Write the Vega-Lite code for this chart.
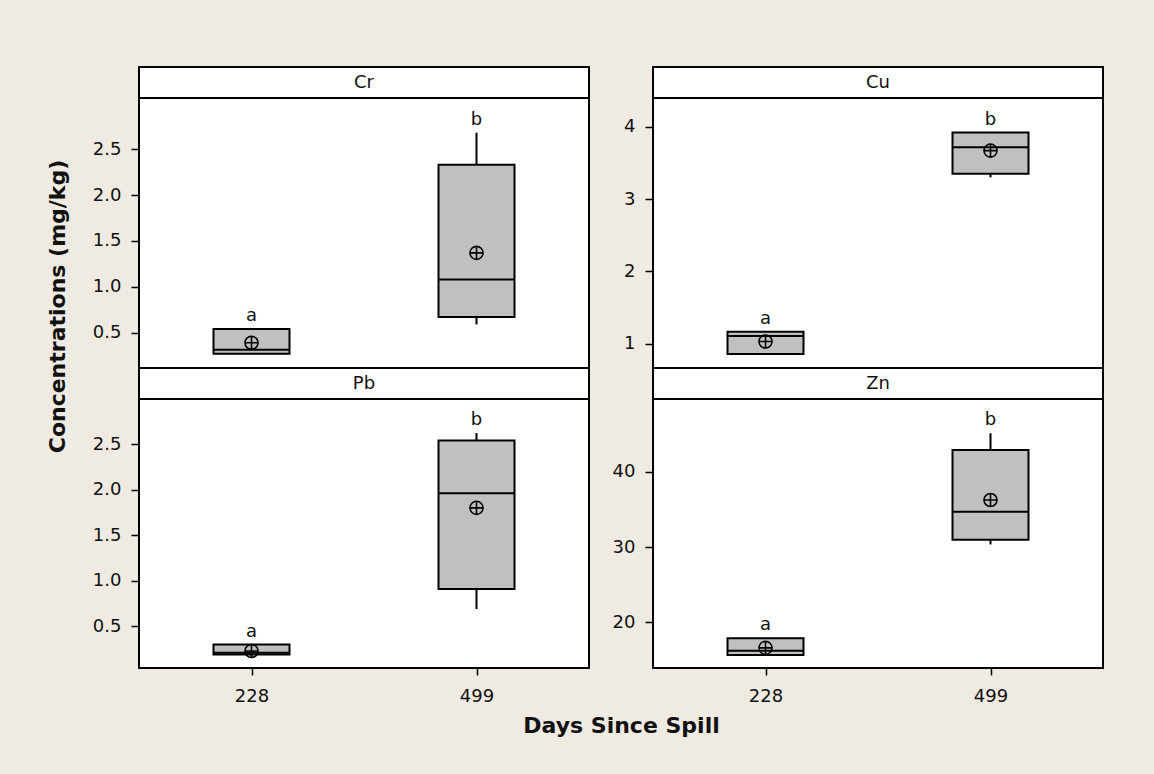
{
  "$schema": "https://vega.github.io/schema/vega-lite/v6.json",
  "background": "#EFEBE2",
  "padding": {"left": 45, "top": 66, "right": 50, "bottom": 37},
  "datasets": {
    "boxes": [
      {"element": "Cr", "day": 228, "lo": 0.27, "q1": 0.27, "median": 0.315, "q3": 0.54, "hi": 0.54, "mean": 0.39, "letter": "a"},
      {"element": "Cr", "day": 499, "lo": 0.59, "q1": 0.67, "median": 1.08, "q3": 2.33, "hi": 2.68, "mean": 1.37, "letter": "b"},
      {"element": "Cu", "day": 228, "lo": 0.857, "q1": 0.857, "median": 1.106, "q3": 1.166, "hi": 1.166, "mean": 1.03, "letter": "a"},
      {"element": "Cu", "day": 499, "lo": 3.3, "q1": 3.35, "median": 3.715, "q3": 3.92, "hi": 3.92, "mean": 3.67, "letter": "b"},
      {"element": "Pb", "day": 228, "lo": 0.17, "q1": 0.19, "median": 0.21, "q3": 0.3, "hi": 0.3, "mean": 0.23, "letter": "a"},
      {"element": "Pb", "day": 499, "lo": 0.69, "q1": 0.91, "median": 1.96, "q3": 2.54, "hi": 2.62, "mean": 1.8, "letter": "b"},
      {"element": "Zn", "day": 228, "lo": 15.65, "q1": 15.65, "median": 16.22, "q3": 17.87, "hi": 17.87, "mean": 16.6, "letter": "a"},
      {"element": "Zn", "day": 499, "lo": 30.36, "q1": 31.0, "median": 34.72, "q3": 42.93, "hi": 45.15, "mean": 36.27, "letter": "b"}
    ],
    "strips": [{"element": "Cr"}, {"element": "Cu"}, {"element": "Pb"}, {"element": "Zn"}]
  },
  "columns": 2,
  "spacing": {"row": 0, "column": 64},
  "bounds": "flush",
  "align": "each",
  "concat": [
    {"width": 450, "height": 31, "data": {"name": "strips"}, "transform": [{"filter": "datum.element == 'Cr'"}],
     "mark": {"type": "text", "fontSize": 18, "color": "#111", "baseline": "middle"},
     "encoding": {"x": {"field": "element", "type": "nominal", "axis": null}, "y": {"field": "element", "type": "nominal", "axis": null}, "text": {"field": "element"}}},
    {"width": 450, "height": 31, "data": {"name": "strips"}, "transform": [{"filter": "datum.element == 'Cu'"}],
     "mark": {"type": "text", "fontSize": 18, "color": "#111", "baseline": "middle"},
     "encoding": {"x": {"field": "element", "type": "nominal", "axis": null}, "y": {"field": "element", "type": "nominal", "axis": null}, "text": {"field": "element"}}},
    {
      "width": 450, "height": 270,
      "data": {"name": "boxes"},
      "transform": [{"filter": "datum.element == 'Cr'"}],
      "encoding": {"x": {"field": "day", "type": "ordinal", "scale": {"type": "point", "padding": 0.5}, "axis": null}},
      "layer": [
        {"mark": {"type": "rule", "color": "black", "strokeWidth": 2},
         "encoding": {"y": {"field": "lo", "type": "quantitative", "title": "Concentrations (mg/kg)", "scale": {"domain": [0.115, 3.059], "nice": false, "zero": false}, "axis": {"values": [0.5, 1, 1.5, 2, 2.5], "format": ".1f", "titleX": -70, "titleY": 208}}, "y2": {"field": "hi"}}},
        {"mark": {"type": "bar", "fill": "#C0C0C0", "stroke": "black", "strokeWidth": 2, "size": 76},
         "encoding": {"y": {"field": "q1", "type": "quantitative", "title": "Concentrations (mg/kg)"}, "y2": {"field": "q3"}}},
        {"mark": {"type": "tick", "color": "black", "thickness": 2, "size": 76, "opacity": 1},
         "encoding": {"y": {"field": "median", "type": "quantitative", "title": "Concentrations (mg/kg)"}}},
        {"mark": {"type": "point", "shape": "M-1,0A1,1,0,1,1,1,0A1,1,0,1,1,-1,0M-1,0L1,0M0,-1L0,1", "size": 170, "filled": false, "stroke": "black", "strokeWidth": 1.6, "opacity": 1},
         "encoding": {"y": {"field": "mean", "type": "quantitative", "title": "Concentrations (mg/kg)"}}},
        {"mark": {"type": "text", "fontSize": 18, "baseline": "alphabetic", "dy": -8, "color": "#111"},
         "encoding": {"y": {"field": "hi", "type": "quantitative", "title": "Concentrations (mg/kg)"}, "text": {"field": "letter"}}}
      ]
    },
    {
      "width": 450, "height": 270,
      "data": {"name": "boxes"},
      "transform": [{"filter": "datum.element == 'Cu'"}],
      "encoding": {"x": {"field": "day", "type": "ordinal", "scale": {"type": "point", "padding": 0.5}, "axis": null}},
      "layer": [
        {"mark": {"type": "rule", "color": "black", "strokeWidth": 2},
         "encoding": {"y": {"field": "lo", "type": "quantitative", "title": null, "scale": {"domain": [0.664, 4.397], "nice": false, "zero": false}, "axis": {"values": [1, 2, 3, 4], "format": "d"}}, "y2": {"field": "hi"}}},
        {"mark": {"type": "bar", "fill": "#C0C0C0", "stroke": "black", "strokeWidth": 2, "size": 76},
         "encoding": {"y": {"field": "q1", "type": "quantitative", "title": null}, "y2": {"field": "q3"}}},
        {"mark": {"type": "tick", "color": "black", "thickness": 2, "size": 76, "opacity": 1},
         "encoding": {"y": {"field": "median", "type": "quantitative", "title": null}}},
        {"mark": {"type": "point", "shape": "M-1,0A1,1,0,1,1,1,0A1,1,0,1,1,-1,0M-1,0L1,0M0,-1L0,1", "size": 170, "filled": false, "stroke": "black", "strokeWidth": 1.6, "opacity": 1},
         "encoding": {"y": {"field": "mean", "type": "quantitative", "title": null}}},
        {"mark": {"type": "text", "fontSize": 18, "baseline": "alphabetic", "dy": -8, "color": "#111"},
         "encoding": {"y": {"field": "hi", "type": "quantitative", "title": null}, "text": {"field": "letter"}}}
      ]
    },
    {"width": 450, "height": 31, "data": {"name": "strips"}, "transform": [{"filter": "datum.element == 'Pb'"}],
     "mark": {"type": "text", "fontSize": 18, "color": "#111", "baseline": "middle"},
     "encoding": {"x": {"field": "element", "type": "nominal", "axis": null}, "y": {"field": "element", "type": "nominal", "axis": null}, "text": {"field": "element"}}},
    {"width": 450, "height": 31, "data": {"name": "strips"}, "transform": [{"filter": "datum.element == 'Zn'"}],
     "mark": {"type": "text", "fontSize": 18, "color": "#111", "baseline": "middle"},
     "encoding": {"x": {"field": "element", "type": "nominal", "axis": null}, "y": {"field": "element", "type": "nominal", "axis": null}, "text": {"field": "element"}}},
    {
      "width": 450, "height": 269,
      "data": {"name": "boxes"},
      "transform": [{"filter": "datum.element == 'Pb'"}],
      "encoding": {"x": {"field": "day", "type": "ordinal", "scale": {"type": "point", "padding": 0.5}, "title": "Days Since Spill", "axis": {"labelAngle": 0, "labelPadding": 12, "tickSize": 7, "titleX": 482, "titleY": 47}}},
      "layer": [
        {"mark": {"type": "rule", "color": "black", "strokeWidth": 2},
         "encoding": {"y": {"field": "lo", "type": "quantitative", "title": null, "scale": {"domain": [0.043, 2.994], "nice": false, "zero": false}, "axis": {"values": [0.5, 1, 1.5, 2, 2.5], "format": ".1f"}}, "y2": {"field": "hi"}}},
        {"mark": {"type": "bar", "fill": "#C0C0C0", "stroke": "black", "strokeWidth": 2, "size": 76},
         "encoding": {"y": {"field": "q1", "type": "quantitative", "title": null}, "y2": {"field": "q3"}}},
        {"mark": {"type": "tick", "color": "black", "thickness": 2, "size": 76, "opacity": 1},
         "encoding": {"y": {"field": "median", "type": "quantitative", "title": null}}},
        {"mark": {"type": "point", "shape": "M-1,0A1,1,0,1,1,1,0A1,1,0,1,1,-1,0M-1,0L1,0M0,-1L0,1", "size": 170, "filled": false, "stroke": "black", "strokeWidth": 1.6, "opacity": 1},
         "encoding": {"y": {"field": "mean", "type": "quantitative", "title": null}}},
        {"mark": {"type": "text", "fontSize": 18, "baseline": "alphabetic", "dy": -8, "color": "#111"},
         "encoding": {"y": {"field": "hi", "type": "quantitative", "title": null}, "text": {"field": "letter"}}}
      ]
    },
    {
      "width": 450, "height": 269,
      "data": {"name": "boxes"},
      "transform": [{"filter": "datum.element == 'Zn'"}],
      "encoding": {"x": {"field": "day", "type": "ordinal", "scale": {"type": "point", "padding": 0.5}, "title": null, "axis": {"labelAngle": 0, "labelPadding": 12, "tickSize": 7}}},
      "layer": [
        {"mark": {"type": "rule", "color": "black", "strokeWidth": 2},
         "encoding": {"y": {"field": "lo", "type": "quantitative", "title": null, "scale": {"domain": [13.92, 49.71], "nice": false, "zero": false}, "axis": {"values": [20, 30, 40], "format": "d"}}, "y2": {"field": "hi"}}},
        {"mark": {"type": "bar", "fill": "#C0C0C0", "stroke": "black", "strokeWidth": 2, "size": 76},
         "encoding": {"y": {"field": "q1", "type": "quantitative", "title": null}, "y2": {"field": "q3"}}},
        {"mark": {"type": "tick", "color": "black", "thickness": 2, "size": 76, "opacity": 1},
         "encoding": {"y": {"field": "median", "type": "quantitative", "title": null}}},
        {"mark": {"type": "point", "shape": "M-1,0A1,1,0,1,1,1,0A1,1,0,1,1,-1,0M-1,0L1,0M0,-1L0,1", "size": 170, "filled": false, "stroke": "black", "strokeWidth": 1.6, "opacity": 1},
         "encoding": {"y": {"field": "mean", "type": "quantitative", "title": null}}},
        {"mark": {"type": "text", "fontSize": 18, "baseline": "alphabetic", "dy": -8, "color": "#111"},
         "encoding": {"y": {"field": "hi", "type": "quantitative", "title": null}, "text": {"field": "letter"}}}
      ]
    }
  ],
  "config": {
    "view": {"fill": "white", "stroke": "black", "strokeWidth": 2},
    "font": "DejaVu Sans",
    "axis": {"domain": false, "grid": false, "labelFont": "DejaVu Sans", "labelFontSize": 18, "labelColor": "#111", "tickColor": "#000", "tickWidth": 1.5, "tickSize": 8, "labelPadding": 10, "titleFont": "DejaVu Sans", "titleFontSize": 22, "titleFontWeight": "bold", "titleColor": "#111"}
  }
}
